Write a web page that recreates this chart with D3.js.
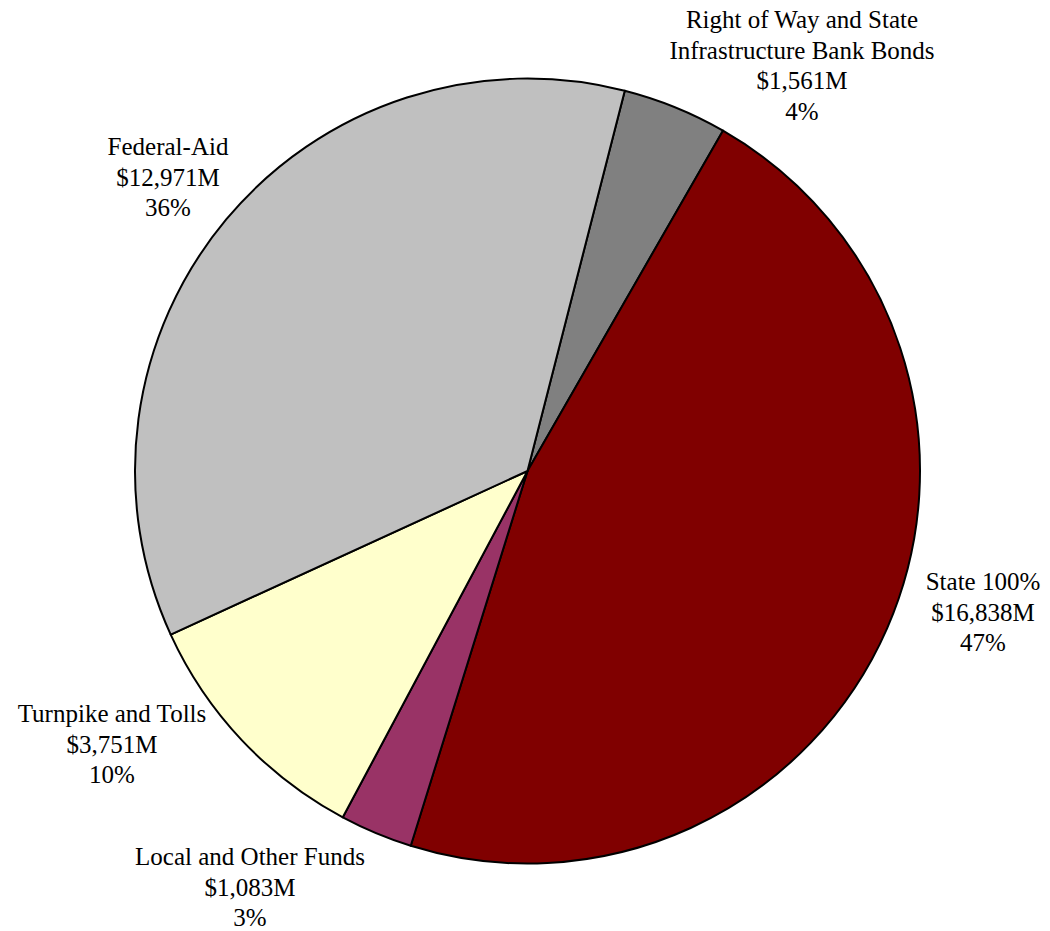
<!DOCTYPE html>
<html>
<head>
<meta charset="utf-8">
<script src="https://cdn.jsdelivr.net/npm/d3@7"></script>
<style>
  html, body { margin: 0; padding: 0; background: #fff; }
  svg { display: block; }
  text { font-family: "Liberation Serif", "Times New Roman", serif; font-size: 25px; fill: #000; }
</style>
</head>
<body>
<svg id="chart" width="1050" height="931"></svg>
<script>
// Data (clockwise from the first slice)
const categories = [
  ["Right of Way and State", "Infrastructure Bank Bonds"],
  ["State 100%"],
  ["Local and Other Funds"],
  ["Turnpike and Tolls"],
  ["Federal-Aid"]
];
const values = [1561, 16838, 1083, 3751, 12971];
const colors = ["#808080", "#800000", "#993366", "#FFFFCC", "#C0C0C0"];

// Layout constants (label centers, first-line baseline)
const labelPos = [[802, 28], [983, 590], [250, 865], [112, 722], [168, 155]];

const width = 1050, height = 931;
const cx = 527.5, cy = 471, radius = 392.5;
const firstAngle = 14.35 * Math.PI / 180;

const svg = d3.select("#chart");
const g = svg.append("g").attr("transform", `translate(${cx},${cy})`);

const data = values.map((v, i) => ({ label: categories[i], value: v, color: colors[i], pos: labelPos[i] }));
const total = d3.sum(values);

const pie = d3.pie().sort(null).value(d => d.value)
  .startAngle(firstAngle).endAngle(firstAngle + 2 * Math.PI);
const arc = d3.arc().innerRadius(0).outerRadius(radius);

g.selectAll("path.slice")
  .data(pie(data))
  .join("path")
  .attr("class", "slice")
  .attr("d", arc)
  .attr("fill", d => d.data.color)
  .attr("stroke", "#000")
  .attr("stroke-width", 2)
  .attr("stroke-linejoin", "round");

const fmtMoney = v => "$" + d3.format(",")(v) + "M";
const fmtPct = v => d3.format(".0f")(v / total * 100) + "%";

const labels = svg.selectAll("text.lbl")
  .data(data)
  .join("text")
  .attr("class", "lbl")
  .attr("text-anchor", "middle")
  .attr("x", d => d.pos[0])
  .attr("y", d => d.pos[1]);

labels.each(function(d) {
  const lines = [...d.label, fmtMoney(d.value), fmtPct(d.value)];
  const t = d3.select(this);
  lines.forEach((line, i) => {
    t.append("tspan")
      .attr("x", d.pos[0])
      .attr("y", d.pos[1] + i * 30.5)
      .text(line);
  });
});
</script>
</body>
</html>
